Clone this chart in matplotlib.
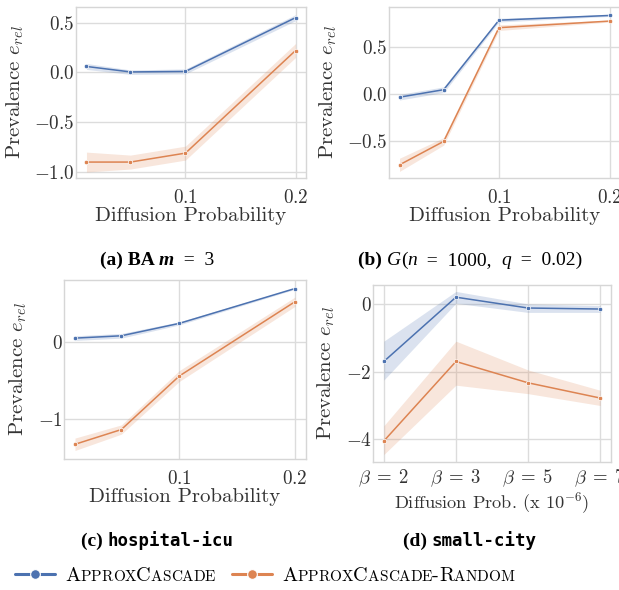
import numpy as np
import matplotlib
matplotlib.use("Agg")
import matplotlib.pyplot as plt
import seaborn as sns

# ---- data -------------------------------------------------------------
diff_prob = [0.01, 0.05, 0.1, 0.2]
beta_labels = [r"$\beta\;=\;2$", r"$\beta\;=\;3$", r"$\beta\;=\;5$", r"$\beta\;=\;7$"]

# (a) BA m=3
a_cas = [0.06, 0.005, 0.01, 0.55]
a_cas_lo = [0.03, -0.02, -0.015, 0.52]
a_cas_hi = [0.09, 0.025, 0.035, 0.58]
a_rnd = [-0.90, -0.90, -0.81, 0.22]
a_rnd_lo = [-1.00, -0.97, -0.88, 0.15]
a_rnd_hi = [-0.80, -0.83, -0.74, 0.29]

# (b) G(n=1000, q=0.02)
b_cas = [-0.03, 0.05, 0.79, 0.84]
b_cas_lo = [-0.06, 0.02, 0.77, 0.83]
b_cas_hi = [0.00, 0.08, 0.81, 0.85]
b_rnd = [-0.75, -0.50, 0.71, 0.78]
b_rnd_lo = [-0.82, -0.54, 0.68, 0.77]
b_rnd_hi = [-0.68, -0.46, 0.74, 0.79]

# (c) hospital-icu
c_cas = [0.05, 0.08, 0.24, 0.69]
c_cas_lo = [0.02, 0.05, 0.22, 0.68]
c_cas_hi = [0.08, 0.11, 0.26, 0.70]
c_rnd = [-1.32, -1.13, -0.44, 0.52]
c_rnd_lo = [-1.40, -1.19, -0.51, 0.46]
c_rnd_hi = [-1.24, -1.07, -0.37, 0.58]

# (d) small-city
d_cas = [-1.70, 0.20, -0.12, -0.15]
d_cas_lo = [-2.25, 0.02, -0.25, -0.25]
d_cas_hi = [-1.10, 0.37, 0.00, -0.05]
d_rnd = [-4.05, -1.70, -2.33, -2.78]
d_rnd_lo = [-4.45, -2.40, -2.65, -3.00]
d_rnd_hi = [-3.60, -1.10, -1.95, -2.55]

BLUE = "#4c72b0"
ORANGE = "#dd8452"
TXT = "#333333"

sns.set_theme(style="whitegrid")
plt.rcParams.update({
    "font.family": "serif",
    "font.serif": ["cmr10"],
    "mathtext.fontset": "cm",
    "axes.formatter.use_mathtext": True,
    "axes.unicode_minus": True,
    "text.color": TXT,
    "axes.labelcolor": TXT,
    "xtick.color": TXT,
    "ytick.color": TXT,
    "axes.edgecolor": "#d6d6d6",
    "grid.color": "#dcdcdc",
    "axes.linewidth": 1.0,
    "grid.linewidth": 1.0,
})

W, H = 619, 590
fig = plt.figure(figsize=(W / 100, H / 100), dpi=100)


def px_axes(l, t, r, b):
    return fig.add_axes([l / W, 1 - b / H, (r - l) / W, (b - t) / H])


def draw_series(ax, x, cas, cas_lo, cas_hi, rnd, rnd_lo, rnd_hi):
    for y, lo, hi, c in [(cas, cas_lo, cas_hi, BLUE), (rnd, rnd_lo, rnd_hi, ORANGE)]:
        ax.fill_between(x, lo, hi, color=c, alpha=0.2, linewidth=0)
        ax.plot(x, y, color=c, lw=1.1, marker="o", ms=3.2,
                mec="white", mew=0.5)
    ax.tick_params(axis="both", length=0, labelsize=13.8)
    ax.tick_params(axis="y", pad=1)
    ax.tick_params(axis="x", pad=8)
    ax.set_ylabel(r"Prevalence $e_{rel}$", fontsize=15, labelpad=6)


panels = [
    ((76, 7, 306, 178), (a_cas, a_cas_lo, a_cas_hi, a_rnd, a_rnd_lo, a_rnd_hi),
     (-1.06, 0.657), [-1.0, -0.5, 0.0, 0.5]),
    ((389, 7, 620, 178), (b_cas, b_cas_lo, b_cas_hi, b_rnd, b_rnd_lo, b_rnd_hi),
     (-0.89, 0.93), [-0.5, 0.0, 0.5]),
    ((64, 280, 306, 459), (c_cas, c_cas_lo, c_cas_hi, c_rnd, c_rnd_lo, c_rnd_hi),
     (-1.51, 0.80), [-1, 0]),
]
for box, series, ylim, yt in panels:
    ax = px_axes(*box)
    draw_series(ax, diff_prob, *series)
    ax.set_xlim(0.0005, 0.2095)
    ax.set_xticks([0.1, 0.2])
    ax.set_ylim(*ylim)
    ax.set_yticks(yt)
    ax.set_xlabel("Diffusion Probability", fontsize=15, labelpad=0)

axd = px_axes(373, 285, 611, 462)
xd = np.arange(len(beta_labels))
draw_series(axd, xd, d_cas, d_cas_lo, d_cas_hi, d_rnd, d_rnd_lo, d_rnd_hi)
axd.set_xlim(-0.15, 3.15)
axd.set_xticks(xd)
axd.set_xticklabels(beta_labels, fontsize=13.5)
axd.tick_params(axis="x", pad=4)
axd.set_ylim(-4.67, 0.56)
axd.set_yticks([-4, -2, 0])
axd.set_xlabel(r"Diffusion Prob. (x $10^{-6}$)", fontsize=13.2, labelpad=1)

# ---- text made of several runs (captions, small caps legend) ----------
renderer = fig.canvas.get_renderer()


def write_runs(xc, y, runs, ha="center"):
    texts = []
    for s, kw in runs:
        texts.append(fig.text(0, y, s, va="baseline", ha="left",
                              color="black", **kw))
    widths = [t.get_window_extent(renderer).width for t in texts]
    total = sum(widths)
    x0 = xc - total / 2 if ha == "center" else xc
    for t, w in zip(texts, widths):
        t.set_x(x0 / W)
        x0 += w
    return texts


def fy(ypx):
    return 1 - ypx / H


bold = dict(family="Liberation Serif", weight="bold", size=14)
reg = dict(family="Liberation Serif", size=14)
ital = dict(family="Liberation Serif", style="italic", size=14)
mono = dict(family="DejaVu Sans Mono", weight="bold", size=12.5)

write_runs(157, fy(265), [("(a) BA ", bold), ("m", dict(ital, weight="bold")),
                          ("  =  3", reg)])
write_runs(470, fy(265), [("(b) ", bold), ("G", ital), ("(", reg), ("n", ital),
                          ("  =  1000,  ", reg), ("q", ital), ("  =  0.02)", reg)])
write_runs(157, fy(546), [("(c) ", bold), ("hospital-icu", mono)])
write_runs(470, fy(546), [("(d) ", bold), ("small-city", mono)])

big = dict(family="cmr10", size=14.6)
small = dict(family="cmr10", size=11)


def smallcaps(word):
    runs = []
    for ch in word:
        if ch.isupper() or ch == "-":
            runs.append((ch, big))
        else:
            runs.append((ch.upper(), small))
    return runs


for x0, c, label in [(15, BLUE, "ApproxCascade"), (232, ORANGE, "ApproxCascade-Random")]:
    fig.add_artist(plt.Line2D([x0 / W, (x0 + 40) / W], [fy(574), fy(574)],
                              color=c, lw=2.2, transform=fig.transFigure))
    fig.add_artist(plt.Line2D([(x0 + 20) / W], [fy(574)], color=c, marker="o",
                              ms=7, mec="white", mew=0.8, transform=fig.transFigure))
    write_runs(x0 + 50, fy(581), smallcaps(label), ha="left")

fig.savefig("out.png", dpi=100, facecolor="white")
